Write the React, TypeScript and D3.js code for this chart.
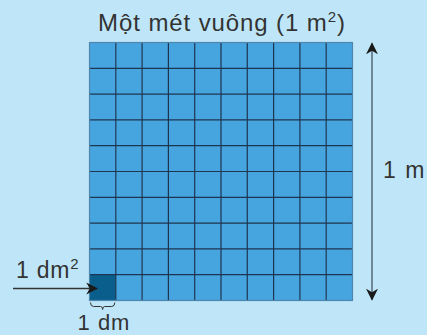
import React from "react";
import * as d3 from "d3";

const title = "Một mét vuông (1 m";
const rows = d3.range(10);
const cols = d3.range(10);
const highlighted = [{ row: 9, col: 0 }];
const sideLabel = "1 m";
const cellLabel = "1 dm";

const W = 427, H = 335;

export default function App() {
  const x = d3.scaleLinear().domain([0, 10]).range([89.5, 352.5]);
  const y = d3.scaleLinear().domain([0, 10]).range([42.5, 300.5]);
  const font = "'Liberation Sans', Arial, sans-serif";
  const bx0 = x(0), bx1 = x(1), by = y(10) + 2;
  const mid = (bx0 + bx1) / 2;
  const brace = `M${bx0 + 1},${by} Q${bx0 + 1},${by + 4} ${bx0 + 4},${by + 4} L${mid - 2},${by + 4} Q${mid},${by + 4} ${mid},${by + 7} Q${mid},${by + 4} ${mid + 2},${by + 4} L${bx1 - 4},${by + 4} Q${bx1 - 1},${by + 4} ${bx1 - 1},${by}`;
  return (
    <svg width={W} height={H} style={{ position: "absolute", left: 0, top: 0 }}>
      <defs>
        <marker id="ah" viewBox="0 0 10 10" refX="9" refY="5" markerWidth="12" markerHeight="13" markerUnits="userSpaceOnUse" orient="auto-start-reverse">
          <path d="M0,0 L10,5 L0,10 L3,5 Z" fill="#1a1a1a" />
        </marker>
      </defs>
      <rect width={W} height={H} fill="#bfe6f8" />
      <text x={222} y={31} textAnchor="middle" fontFamily={font} fontSize={24} letterSpacing={0.9} fill="#333">
        {title}
        <tspan fontSize={15} dy={-9}>2</tspan>
        <tspan dy={9}>)</tspan>
      </text>
      {rows.map((r) =>
        cols.map((c) => {
          const hl = highlighted.some((h) => h.row === r && h.col === c);
          return (
            <rect key={`${r}-${c}`} x={x(c)} y={y(r)} width={x(c + 1) - x(c)} height={y(r + 1) - y(r)}
              fill={hl ? "#0a5e8c" : "#46a4de"} />
          );
        })
      )}
      {d3.range(1, 10).map((i) => (
        <line key={`v${i}`} x1={x(i)} x2={x(i)} y1={y(0)} y2={y(10)} stroke="#1d3550" strokeWidth={1.2} />
      ))}
      {d3.range(1, 10).map((i) => (
        <line key={`h${i}`} x1={x(0)} x2={x(10)} y1={y(i)} y2={y(i)} stroke="#1d3550" strokeWidth={1.2} />
      ))}
      <rect x={x(0)} y={y(0)} width={x(10) - x(0)} height={y(10) - y(0)} fill="none" stroke="#4f86ad" strokeWidth={1.2} />
      <line x1={372} x2={372} y1={y(0) + 1} y2={y(10) - 1} stroke="#6f8796" strokeWidth={2} markerStart="url(#ah)" markerEnd="url(#ah)" />
      <text x={383} y={178} fontFamily={font} fontSize={23} letterSpacing={1.5} fill="#333">{sideLabel}</text>
      <line x1={13} x2={97} y1={288.5} y2={288.5} stroke="#333" strokeWidth={1.5} markerEnd="url(#ah)" />
      <text x={16} y={277.5} fontFamily={font} fontSize={23} letterSpacing={0.8} fill="#333">
        1 dm<tspan fontSize={15} dy={-9}>2</tspan>
      </text>
      <path d={brace} fill="none" stroke="#333" strokeWidth={1} />
      <text x={104} y={330} textAnchor="middle" fontFamily={font} fontSize={22} letterSpacing={1} fill="#333">{cellLabel}</text>
    </svg>
  );
}
